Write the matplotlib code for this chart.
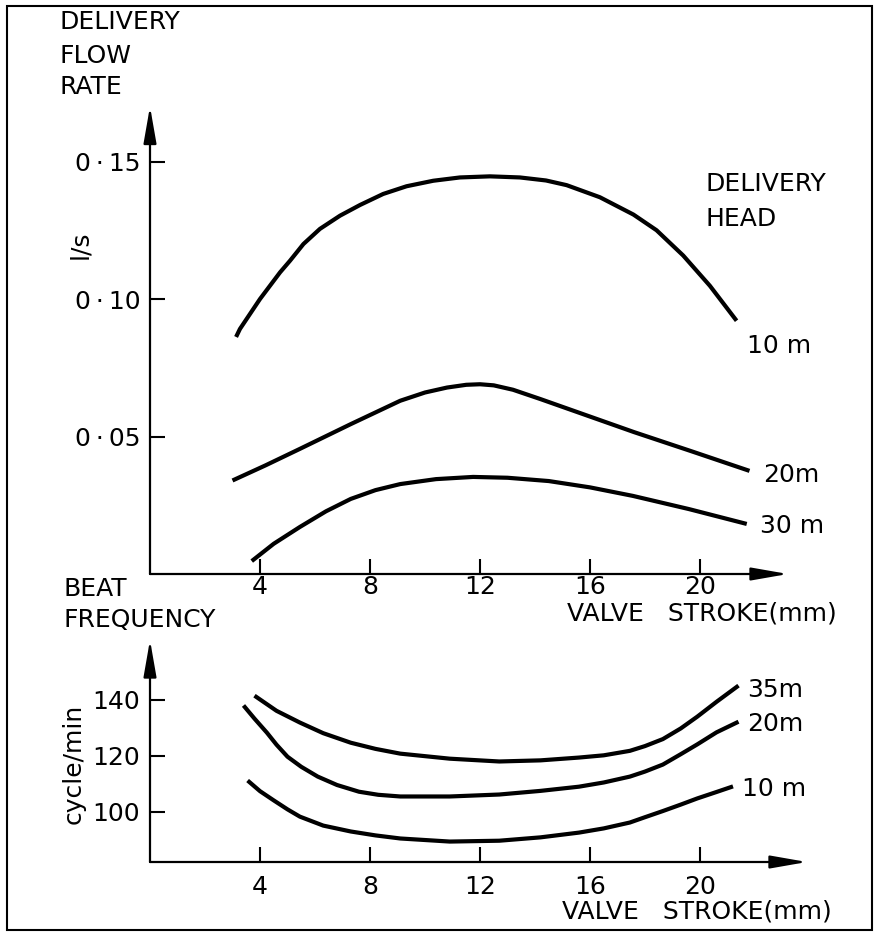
import matplotlib
matplotlib.use("Agg")
import matplotlib.pyplot as plt
from matplotlib.patches import Rectangle

plt.rcParams['font.family'] = ['DejaVu Sans']

# delivery flow rate (l/s) against valve stroke (mm), one curve per delivery head
stroke_q10 = [3.13, 3.27, 4.0, 4.73, 5.09, 5.58, 6.18, 6.91, 7.64, 8.48, 9.33, 10.3, 11.27,
              12.36, 13.45, 14.4, 15.15, 16.36, 17.58, 18.42, 19.39, 20.36, 21.33]
flow_10m = [0.0862, 0.0891, 0.1000, 0.1097, 0.1139, 0.1200, 0.1255, 0.1303, 0.1342, 0.1382,
            0.1410, 0.1430, 0.1442, 0.1446, 0.1442, 0.1431, 0.1414, 0.1370, 0.1307, 0.1250,
            0.1158, 0.1048, 0.0921]

stroke_q20 = [3.0, 4.2, 5.45, 7.3, 9.1, 10.0, 10.8, 11.5, 12.0, 12.5, 13.2, 14.2, 15.9, 17.6, 19.7, 21.8]
flow_20m = [0.034, 0.0395, 0.0455, 0.0545, 0.0630, 0.0660, 0.0678, 0.0688, 0.0690, 0.0686,
            0.0670, 0.0636, 0.0576, 0.0516, 0.0446, 0.0375]

stroke_q30 = [3.7, 4.5, 5.45, 6.4, 7.3, 8.2, 9.1, 10.4, 11.75, 13.0, 14.5, 16.0, 17.56, 19.6, 21.7]
flow_30m = [0.0047, 0.0110, 0.0171, 0.0228, 0.0273, 0.0305, 0.0327, 0.0345, 0.0353, 0.0350,
            0.0338, 0.0315, 0.0284, 0.0236, 0.0182]

# beat frequency (cycle/min) against valve stroke (mm)
stroke_f35 = [3.8, 4.6, 5.45, 6.3, 7.3, 8.2, 9.1, 10.9, 12.7, 14.2, 15.6, 16.5, 17.45, 18.0,
              18.65, 19.3, 19.9, 20.6, 21.4]
beat_35m = [141.4, 136.0, 131.8, 128.0, 124.6, 122.4, 120.7, 118.9, 117.9, 118.3, 119.3, 120.1,
            121.7, 123.4, 125.9, 129.7, 133.9, 139.2, 145.0]

stroke_f20 = [3.4, 3.8, 4.25, 4.6, 5.0, 5.5, 6.1, 6.8, 7.6, 8.3, 9.1, 10.9, 12.7, 14.2, 15.6,
              16.5, 17.45, 18.0, 18.65, 19.3, 19.9, 20.6, 21.4]
beat_20m = [137.9, 133.2, 128.2, 123.9, 119.6, 116.0, 112.5, 109.5, 107.1, 106.0, 105.4, 105.4,
            106.1, 107.4, 108.9, 110.4, 112.5, 114.3, 116.8, 120.5, 124.0, 128.3, 132.1]

stroke_f10 = [3.55, 4.0, 4.5, 5.0, 5.45, 6.3, 7.3, 8.2, 9.1, 10.9, 12.7, 14.2, 15.6, 16.5,
              17.45, 18.0, 18.65, 19.3, 19.9, 20.6, 21.2]
beat_10m = [111.1, 107.3, 104.0, 100.8, 98.2, 95.0, 92.9, 91.5, 90.4, 89.3, 89.6, 90.8, 92.5,
            94.0, 96.1, 98.0, 100.2, 102.5, 104.7, 107.0, 109.0]

stroke_ticks = [4, 8, 12, 16, 20]
flow_ticks = [0.05, 0.10, 0.15]
flow_labels = ['0\u2009·\u200905', '0\u2009·\u200910', '0\u2009·\u200915']
beat_ticks = [100, 120, 140]

W, H = 876, 933
FS = 18
fig = plt.figure(figsize=(W / 100, H / 100), dpi=100)


def add_axes_px(left, top, right, bottom):
    return fig.add_axes([left / W, 1 - bottom / H, (right - left) / W, (bottom - top) / H])


def label(x, y, s, **kw):
    kw.setdefault('fontsize', FS)
    kw.setdefault('va', 'center')
    fig.text(x / W, 1 - y / H, s, **kw)


def arrow_axes(ax, pad):
    for sp in ax.spines.values():
        sp.set_visible(False)
    style = dict(arrowstyle='-|>,head_length=1.6,head_width=0.28', lw=1.6,
                 color='black', mutation_scale=14, shrinkA=0, shrinkB=0)
    ax.annotate('', xy=(1, 0), xytext=(0, 0), xycoords='axes fraction',
                arrowprops=style, annotation_clip=False)
    ax.annotate('', xy=(0, 1), xytext=(0, 0), xycoords='axes fraction',
                arrowprops=style, annotation_clip=False)
    ax.tick_params(direction='in', length=11, width=1.5, labelsize=FS, color='black')
    ax.tick_params(axis='x', pad=pad)
    ax.tick_params(axis='y', pad=7)


line_kw = dict(color='black', lw=3.0, solid_capstyle='butt', solid_joinstyle='round')

# upper panel: flow rate
ax1 = add_axes_px(150, 106.5, 788, 574)
ax1.plot(stroke_q10, flow_10m, **line_kw)
ax1.plot(stroke_q20, flow_20m, **line_kw)
ax1.plot(stroke_q30, flow_30m, **line_kw)
ax1.set_xlim(0, 638 / 27.5)
ax1.set_ylim(0, 0.17)
ax1.set_xticks(stroke_ticks)
ax1.set_yticks(flow_ticks)
ax1.set_yticklabels(flow_labels)
arrow_axes(ax1, pad=1)

# lower panel: beat frequency
ax2 = add_axes_px(150, 640, 807, 862)
ax2.plot(stroke_f35, beat_35m, **line_kw)
ax2.plot(stroke_f20, beat_20m, **line_kw)
ax2.plot(stroke_f10, beat_10m, **line_kw)
ax2.set_xlim(0, 657 / 27.5)
ax2.set_ylim(82, 82 + 222 / 2.8)
ax2.set_xticks(stroke_ticks)
ax2.set_yticks(beat_ticks)
arrow_axes(ax2, pad=9)

# axis titles and curve labels
label(60, 22, 'DELIVERY')
label(60, 56, 'FLOW')
label(60, 87, 'RATE')
label(80, 245, 'l/s', rotation=90, ha='center')
label(705, 184, 'DELIVERY')
label(705, 219, 'HEAD')
label(747, 346, '10 m')
label(763, 475, '20m')
label(760, 526, '30 m')
label(567, 614, 'VALVE   STROKE(mm)')

label(63, 589, 'BEAT')
label(63, 620, 'FREQUENCY')
label(74, 764, 'cycle/min', rotation=90, ha='center')
label(747, 690, '35m')
label(747, 724, '20m')
label(742, 789, '10 m')
label(562, 912, 'VALVE   STROKE(mm)')

# outer frame
fig.patches.append(Rectangle((7 / W, 3 / H), 865 / W, 924 / H, transform=fig.transFigure,
                             fill=False, lw=1.5, edgecolor='black'))

fig.savefig('out.png', dpi=100)
